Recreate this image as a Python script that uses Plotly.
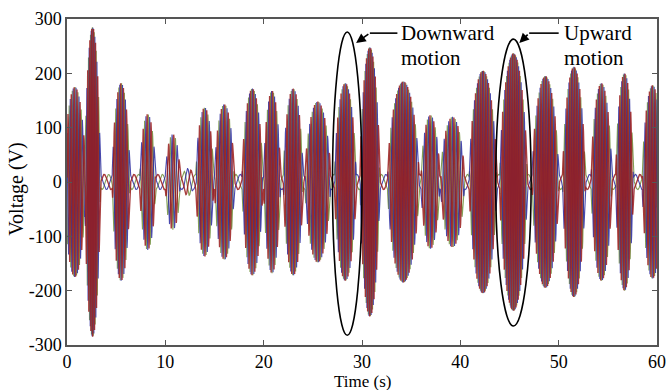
import numpy as np
import plotly.graph_objects as go

# Burst envelopes: start (s), end (s), peak voltage (V)
burst_start = [-0.3, 1.8, 4.6, 7.4, 10.0, 11.8, 13.1, 15.0, 17.8, 20.0, 22.0, 24.2,
               27.2, 29.8, 32.6, 36.0, 38.0, 40.9, 44.0, 47.3, 50.4, 53.3, 55.8, 58.5]
burst_end = [1.9, 3.4, 6.4, 9.0, 11.5, 12.8, 14.9, 17.0, 19.9, 21.7, 24.0, 26.8,
             29.4, 31.8, 35.8, 37.9, 40.4, 43.7, 46.8, 50.0, 52.7, 55.4, 57.6, 60.6]
burst_peak = [175, 285, 182, 125, 88, 25, 137, 143, 172, 168, 172, 148,
              182, 248, 185, 123, 120, 205, 237, 195, 212, 182, 200, 178]
residual_amp = 14  # small oscillation between bursts (V)

x_ticks = [0, 10, 20, 30, 40, 50, 60]
y_ticks = [-300, -200, -100, 0, 100, 200, 300]

phase_colors = ["#6f8f3a", "#2a2aa0", "#9a1c1c"]
phase_offsets_deg = [240, 120, 0]
phase_widths = [1.1, 1.1, 1.4]

# envelope & electrical phase (linear generator: amplitude and frequency follow speed)
t = np.arange(0, 60.0001, 0.005)
env = np.full_like(t, float(residual_amp))
for s, e, p in zip(burst_start, burst_end, burst_peak):
    m = (t >= s) & (t <= e)
    base = np.clip(np.sin(np.pi * (t[m] - s) / (e - s)), 0.0, 1.0)
    shape = base ** 0.6
    env[m] = np.maximum(env[m], residual_amp + (p - residual_amp) * shape)
freq = 0.5 + 0.017 * env
theta = 2 * np.pi * np.cumsum(freq) * (t[1] - t[0])

fig = go.Figure()
for col, off, w in zip(phase_colors, phase_offsets_deg, phase_widths):
    v = env * np.sin(theta + np.deg2rad(off))
    fig.add_trace(go.Scatter(x=t, y=v, mode="lines", opacity=0.85,
                             line=dict(color=col, width=w), showlegend=False,
                             hoverinfo="skip"))

serif = "Liberation Serif"
# ellipses
fig.add_shape(type="circle", xref="x", yref="y", x0=27.0, x1=30.0, y0=-282, y1=276,
              line=dict(color="black", width=1.6))
fig.add_shape(type="circle", xref="x", yref="y", x0=43.6, x1=47.2, y0=-265, y1=263,
              line=dict(color="black", width=1.6))
# arrow horizontal parts
fig.add_shape(type="line", xref="x", yref="y", x0=30.8, x1=33.6, y0=274, y1=274,
              line=dict(color="black", width=1.6))
fig.add_shape(type="line", xref="x", yref="y", x0=47.0, x1=50.0, y0=274, y1=274,
              line=dict(color="black", width=1.6))
fig.add_annotation(x=29.4, y=256, ax=30.8, ay=274, xref="x", yref="y", axref="x", ayref="y",
                   showarrow=True, arrowhead=2, arrowsize=1.2, arrowwidth=1.6,
                   arrowcolor="black", text="")
fig.add_annotation(x=46.0, y=256, ax=47.0, ay=274, xref="x", yref="y", axref="x", ayref="y",
                   showarrow=True, arrowhead=2, arrowsize=1.2, arrowwidth=1.6,
                   arrowcolor="black", text="")
for xx, yy, txt in [(33.8, 274, "Downward"), (33.8, 228, "motion"),
                    (50.3, 274, "Upward"), (50.3, 228, "motion")]:
    fig.add_annotation(x=xx, y=yy, xref="x", yref="y", xanchor="left", yanchor="middle",
                       text=txt, showarrow=False,
                       font=dict(family=serif, size=21, color="black"))

# axis titles
fig.add_annotation(x=0.5, y=-0.145, xref="paper", yref="paper", xanchor="center",
                   yanchor="bottom", text="Time (s)", showarrow=False, borderpad=0,
                   font=dict(family=serif, size=17, color="black"))
fig.add_annotation(x=-0.086, y=0.48, xref="paper", yref="paper", xanchor="center",
                   yanchor="middle", text="Voltage (V)", textangle=-90, showarrow=False,
                   font=dict(family=serif, size=20, color="black"))

axis_common = dict(showgrid=False, zeroline=False, showline=True, linecolor="#555555",
                   linewidth=1.5, mirror="ticks", ticks="inside", ticklen=5,
                   tickcolor="#555555", tickwidth=1, automargin=False,
                   tickfont=dict(family=serif, size=18, color="black"))

fig.update_layout(
    width=669, height=390,
    margin=dict(l=67, r=12, t=19, b=45),
    paper_bgcolor="white", plot_bgcolor="white",
    xaxis=dict(range=[0, 60], tickvals=x_ticks, ticktext=[str(v) for v in x_ticks],
               **axis_common),
    yaxis=dict(range=[-300, 300], tickvals=y_ticks, ticktext=[str(v) for v in y_ticks],
               **axis_common),
)

fig.write_html("out.html")
